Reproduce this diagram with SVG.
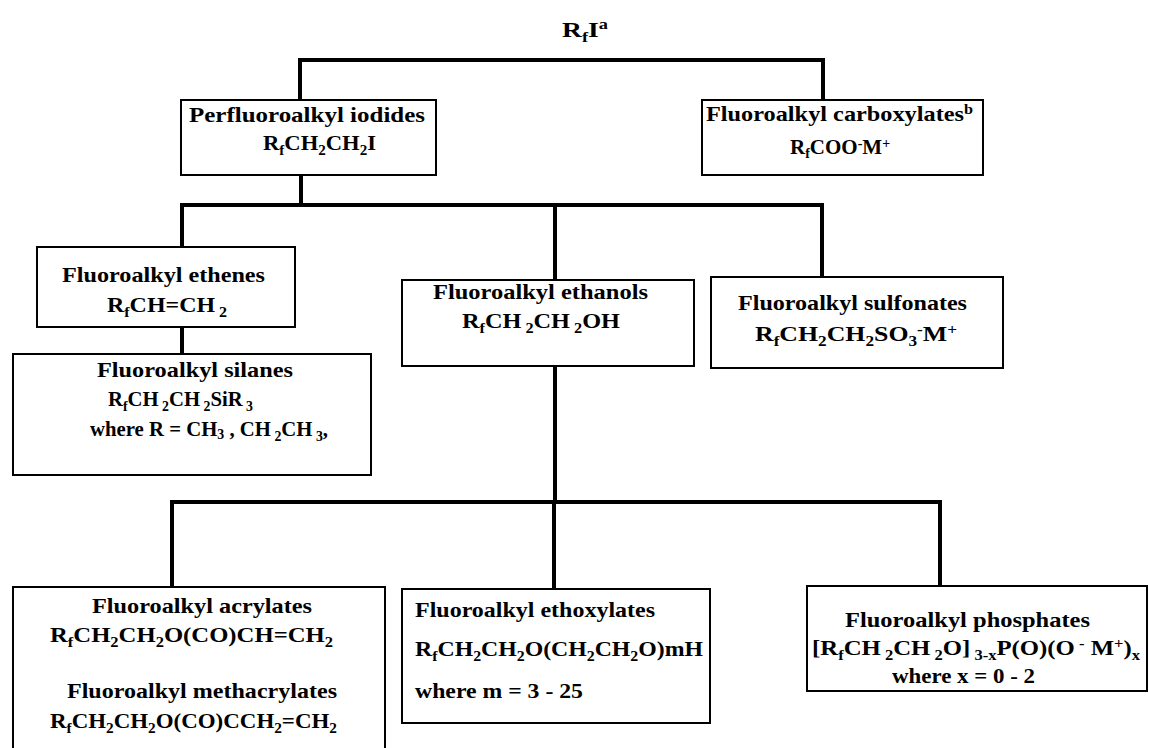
<svg xmlns="http://www.w3.org/2000/svg" width="1149" height="748" viewBox="0 0 1149 748">
<style>
.t{font-family:"Liberation Serif","Times New Roman",serif;font-weight:bold;font-size:21px;fill:#000}
.s{font-size:14px}
.box{fill:#fff;stroke:#000;stroke-width:2}
.c{fill:none;stroke:#000;stroke-width:4;stroke-linejoin:miter;stroke-linecap:square}
</style>
<rect width="1149" height="748" fill="#fff"/>
<g id="connectors">
<path class="c" d="M300,100 V60 H823 V100"/>
<path class="c" d="M301,175 V205"/>
<path class="c" d="M182,247 V205 H822 V277"/>
<path class="c" d="M555,205 V280"/>
<path class="c" d="M182,327 V354"/>
<path class="c" d="M555,366 V502"/>
<path class="c" d="M172,587 V502 H940 V586"/>
<path class="c" d="M554,502 V589"/>
</g>
<g id="title">
<text class="t" x="562" y="37" font-size="23" textLength="46" lengthAdjust="spacingAndGlyphs">R<tspan class="s" dy="5">f</tspan><tspan dy="-5">I</tspan><tspan class="s" dy="-8">a</tspan></text>
</g>
<g id="iodides">
<rect class="box" x="181" y="100" width="255" height="75"/>
<text class="t" x="189" y="122" textLength="236" lengthAdjust="spacingAndGlyphs">Perfluoroalkyl iodides</text>
<text class="t" x="263" y="150" textLength="113" lengthAdjust="spacingAndGlyphs">R<tspan class="s" dy="5">f</tspan><tspan dy="-5">CH</tspan><tspan class="s" dy="5">2</tspan><tspan dy="-5">CH</tspan><tspan class="s" dy="5">2</tspan><tspan dy="-5">I</tspan></text>
</g>
<g id="carboxylates">
<rect class="box" x="702" y="100" width="281" height="75"/>
<text class="t" x="706" y="121" textLength="267" lengthAdjust="spacingAndGlyphs">Fluoroalkyl carboxylates<tspan class="s" dy="-7">b</tspan></text>
<text class="t" x="790" y="154" font-size="20">R<tspan class="s" dy="4">f</tspan><tspan dy="-4">COO</tspan><tspan class="s" dy="-6">-</tspan><tspan dy="6">M</tspan><tspan class="s" dy="-6">+</tspan></text>
</g>
<g id="ethenes">
<rect class="box" x="37" y="247" width="258" height="80"/>
<text class="t" x="62" y="282" textLength="203" lengthAdjust="spacingAndGlyphs">Fluoroalkyl ethenes</text>
<text class="t" x="107" y="312" textLength="120" lengthAdjust="spacingAndGlyphs">R<tspan class="s" dy="5">f</tspan><tspan dy="-5">CH=CH</tspan><tspan class="s" dy="5"> 2</tspan></text>
</g>
<g id="silanes">
<rect class="box" x="13" y="354" width="358" height="121"/>
<text class="t" x="97" y="377" textLength="196" lengthAdjust="spacingAndGlyphs">Fluoroalkyl silanes</text>
<text class="t" x="108" y="406" textLength="145" lengthAdjust="spacingAndGlyphs">R<tspan class="s" dy="5">f</tspan><tspan dy="-5">CH</tspan><tspan class="s" dy="5"> 2</tspan><tspan dy="-5">CH</tspan><tspan class="s" dy="5"> 2</tspan><tspan dy="-5">SiR</tspan><tspan class="s" dy="5"> 3</tspan></text>
<text class="t" x="90" y="436" textLength="238" lengthAdjust="spacingAndGlyphs">where R = CH<tspan class="s" dy="3">3</tspan><tspan dy="-3"> , CH</tspan><tspan class="s" dy="5"> 2</tspan><tspan dy="-5">CH</tspan><tspan class="s" dy="5"> 3</tspan><tspan dy="-5">,</tspan></text>
</g>
<g id="ethanols">
<rect class="box" x="402" y="280" width="292" height="86"/>
<text class="t" x="433" y="299" textLength="215" lengthAdjust="spacingAndGlyphs">Fluoroalkyl ethanols</text>
<text class="t" x="462" y="328" textLength="158" lengthAdjust="spacingAndGlyphs">R<tspan class="s" dy="5">f</tspan><tspan dy="-5">CH</tspan><tspan class="s" dy="5"> 2</tspan><tspan dy="-5">CH</tspan><tspan class="s" dy="5"> 2</tspan><tspan dy="-5">OH</tspan></text>
</g>
<g id="sulfonates">
<rect class="box" x="711" y="277" width="292" height="91"/>
<text class="t" x="738" y="310" textLength="229" lengthAdjust="spacingAndGlyphs">Fluoroalkyl sulfonates</text>
<text class="t" x="755" y="341" textLength="202" lengthAdjust="spacingAndGlyphs">R<tspan class="s" dy="5">f</tspan><tspan dy="-5">CH</tspan><tspan class="s" dy="5">2</tspan><tspan dy="-5">CH</tspan><tspan class="s" dy="5">2</tspan><tspan dy="-5">SO</tspan><tspan class="s" dy="5">3</tspan><tspan class="s" dy="-12">-</tspan><tspan dy="7">M</tspan><tspan class="s" dy="-7">+</tspan></text>
</g>
<g id="acrylates">
<rect class="box" x="13" y="587" width="372" height="175"/>
<text class="t" x="92" y="613" textLength="220" lengthAdjust="spacingAndGlyphs">Fluoroalkyl acrylates</text>
<text class="t" x="50" y="642" textLength="283" lengthAdjust="spacingAndGlyphs">R<tspan class="s" dy="5">f</tspan><tspan dy="-5">CH</tspan><tspan class="s" dy="5">2</tspan><tspan dy="-5">CH</tspan><tspan class="s" dy="5">2</tspan><tspan dy="-5">O(CO)CH=CH</tspan><tspan class="s" dy="5">2</tspan></text>
<text class="t" x="67" y="698" textLength="270" lengthAdjust="spacingAndGlyphs">Fluoroalkyl methacrylates</text>
<text class="t" x="50" y="728" textLength="287" lengthAdjust="spacingAndGlyphs">R<tspan class="s" dy="5">f</tspan><tspan dy="-5">CH</tspan><tspan class="s" dy="5">2</tspan><tspan dy="-5">CH</tspan><tspan class="s" dy="5">2</tspan><tspan dy="-5">O(CO)CCH</tspan><tspan class="s" dy="5">2</tspan><tspan dy="-5">=CH</tspan><tspan class="s" dy="5">2</tspan></text>
</g>
<g id="ethoxylates">
<rect class="box" x="402" y="589" width="308" height="134"/>
<text class="t" x="415" y="617" textLength="240" lengthAdjust="spacingAndGlyphs">Fluoroalkyl ethoxylates</text>
<text class="t" x="415" y="656" textLength="288" lengthAdjust="spacingAndGlyphs">R<tspan class="s" dy="5">f</tspan><tspan dy="-5">CH</tspan><tspan class="s" dy="5">2</tspan><tspan dy="-5">CH</tspan><tspan class="s" dy="5">2</tspan><tspan dy="-5">O(CH</tspan><tspan class="s" dy="5">2</tspan><tspan dy="-5">CH</tspan><tspan class="s" dy="5">2</tspan><tspan dy="-5">O)mH</tspan></text>
<text class="t" x="415" y="698" textLength="168" lengthAdjust="spacingAndGlyphs">where m = 3 - 25</text>
</g>
<g id="phosphates">
<rect class="box" x="807" y="586" width="340" height="105"/>
<text class="t" x="845" y="627" textLength="245" lengthAdjust="spacingAndGlyphs">Fluoroalkyl phosphates</text>
<text class="t" x="812" y="655" textLength="328" lengthAdjust="spacingAndGlyphs">[R<tspan class="s" dy="5">f</tspan><tspan dy="-5">CH</tspan><tspan class="s" dy="5"> 2</tspan><tspan dy="-5">CH</tspan><tspan class="s" dy="5"> 2</tspan><tspan dy="-5">O]</tspan><tspan class="s" dy="5"> 3-x</tspan><tspan dy="-5">P(O)(O</tspan><tspan class="s" dy="-7"> -</tspan><tspan dy="7"> M</tspan><tspan class="s" dy="-7">+</tspan><tspan dy="7">)</tspan><tspan class="s" dy="5">x</tspan></text>
<text class="t" x="892" y="683" textLength="143" lengthAdjust="spacingAndGlyphs">where x = 0 - 2</text>
</g>
</svg>
